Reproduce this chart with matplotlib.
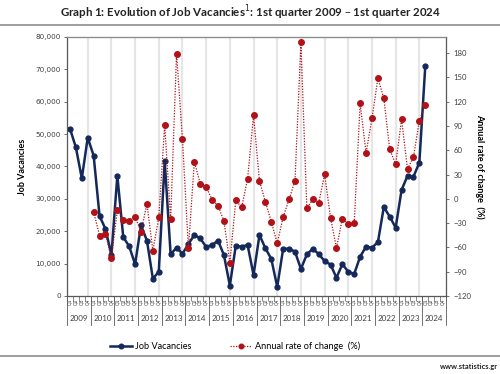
import numpy as np
import matplotlib
matplotlib.use("Agg")
import matplotlib.pyplot as plt
from matplotlib.lines import Line2D
import matplotlib.transforms as mtransforms

# data: quarterly, 2009 Q1 .. 2024 Q1
years = [str(y) for y in range(2009, 2025)]
quarters = ['Q1', 'Q2', 'Q3', 'Q4']

vacancies = [51700, 45900, 36350, 48900, 43350, 24700, 20700, 12650, 37150, 18200,
             15350, 9800, 21850, 17100, 5350, 7500, 41700, 12850, 14950, 13050,
             16050, 18850, 17800, 15150, 15750, 17100, 12650, 3200, 15550, 15250,
             15750, 6500, 18850, 14750, 11450, 2800, 14600, 14600, 13700, 8350,
             12850, 14600, 12950, 10800, 9700, 5650, 9800, 7500, 6800, 12150,
             15250, 14950, 16600, 27500, 24500, 21100, 32750, 37150, 36850, 41200,
             70950]

# annual rate of change (%), starts at 2010 Q1
rate_start = 4
rate = [-16, -45.5, -43, -73.5, -14, -25.7, -27, -22, -40.5, -6,
        -64, -22.8, 91.3, -25.3, 179.4, 73.6, -61.1, 45.9, 18.8, 14.7,
        -1, -8.4, -27.3, -78.8, -1.8, -10.5, 25, 103.2, 22, -3.5,
        -28.2, -54.9, -22.4, -0.6, 22.5, 193.4, -11.7, -0.6, -5.3, 30.3,
        -23.2, -60.7, -24.5, -31, -30.2, 118, 56.7, 99.5, 149, 124.2,
        61.2, 42.7, 98.3, 36.9, 51.3, 96.6, 116]

navy = '#14285a'
red = '#b01218'
grey_txt = '#404040'
txt_font = ['Lato', 'DejaVu Sans']

n_cat = len(years) * len(quarters)
x_vac = np.arange(len(vacancies))
x_rate = np.arange(rate_start, rate_start + len(rate))

fig = plt.figure(figsize=(5.0, 3.74), dpi=100)
ax = fig.add_axes([67/500, 1 - 296/374, 379/500, 259/374])
ax2 = ax.twinx()

# year gridlines (Excel puts them on the Q4 slot)
for k in range(len(years) - 1):
    ax.axvline(4*k + 3, color='#e6e6e6', lw=1.6, zorder=0)

ax.plot(x_vac, vacancies, color=navy, lw=1.8, marker='o', ms=3.5,
        mfc=navy, mec=navy, zorder=3)
ax2.plot(x_rate, rate, color=red, lw=0.9, ls=(0, (1, 1.2)), marker='o', ms=4.0,
         mfc=red, mec=red, zorder=3)

ax.set_xlim(-0.5, n_cat - 0.5)
ax.set_ylim(0, 80000)
ax.set_yticks(np.arange(0, 80001, 10000))
ax.set_yticklabels([f'{v:,}' for v in range(0, 80001, 10000)])
ax2.set_ylim(-120, 200)
ax2.set_yticks(np.arange(-120, 181, 30))

ax.tick_params(axis='y', labelsize=5.2, labelcolor=grey_txt, length=2.5,
               width=0.6, color='#595959', pad=2)
ax2.tick_params(axis='y', labelsize=5.6, labelcolor=grey_txt, length=2.5,
                width=0.6, color='#595959', pad=3)
for lab in ax2.get_yticklabels():
    lab.set_family(txt_font)

# quarter labels
ax.set_xticks(range(n_cat))
ax.set_xticklabels(quarters * len(years), rotation=90, fontsize=3.3,
                   color=grey_txt)
ax.tick_params(axis='x', length=0, pad=1.5)
ax.set_xticks(np.arange(-0.5, n_cat, 1), minor=True)
ax.tick_params(axis='x', which='minor', length=3.5, width=0.5, color='#595959')

# year separators and labels
trans = mtransforms.blended_transform_factory(ax.transData, ax.transAxes)
for k in range(len(years) + 1):
    ax.plot([4*k - 0.5, 4*k - 0.5], [0, -0.113], transform=trans,
            color='#595959', lw=0.6, clip_on=False)
for k, y in enumerate(years):
    ax.text(4*k + 1.5, -0.085, y, transform=trans, ha='center', va='center',
            fontsize=5.8, color=grey_txt, family=txt_font)

for sp in ['left', 'right', 'bottom']:
    ax2.spines[sp].set_color('#595959')
    ax2.spines[sp].set_linewidth(0.8)
ax2.spines['top'].set_color('#8c8c8c')
ax2.spines['top'].set_linewidth(0.8)

ax.set_ylabel('Job Vacancies', fontsize=6.5, fontweight='bold',
              family=txt_font, labelpad=6)
ax2.set_ylabel('Annual rate of change  (%)', fontsize=6.5, fontweight='bold',
               family=txt_font, rotation=270, labelpad=9)

fig.text(0.5, 1 - 13/374, 'Graph 1: Evolution of Job Vacancies$^1$: 1st quarter 2009 \u2013 1st quarter 2024',
         ha='center', va='center', fontsize=8.3, fontweight='bold',
         family=txt_font, color='#222222')

fig.add_artist(Line2D([0, 1], [1 - 25/374, 1 - 25/374], color='#8c8c8c', lw=1.2))
fig.add_artist(Line2D([0, 1], [1 - 356/374, 1 - 356/374], color='#8c8c8c', lw=1.2))

handles = [Line2D([], [], color=navy, lw=1.8, marker='o', ms=3.3),
           Line2D([], [], color=red, lw=0.9, ls=(0, (1, 1.2)), marker='o', ms=3.3)]
fig.legend(handles, ['Job Vacancies', 'Annual rate of change  (%)'],
           loc='center', bbox_to_anchor=(0.47, 1 - 346/374), ncol=2,
           frameon=False, prop={'family': txt_font, 'size': 6.6},
           handlelength=2.4, columnspacing=4.2, handletextpad=0.3)

fig.text(0.997, 1 - 367/374, 'www.statistics.gr', ha='right', va='center',
         fontsize=5.4, fontweight='bold', family=txt_font, color='#222222')

fig.savefig('out.png', dpi=100)
